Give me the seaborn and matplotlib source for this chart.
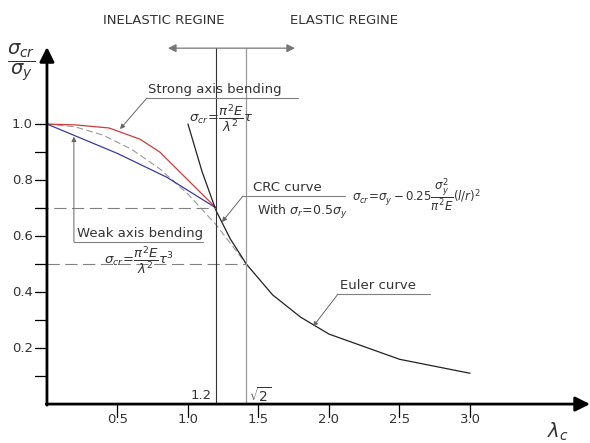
import numpy as np
import pandas as pd
import matplotlib
matplotlib.use("Agg")
import matplotlib.pyplot as plt
import seaborn as sns

# slenderness values
strong_lam = [0.0, 0.2, 0.44, 0.66, 0.80, 1.0, 1.2]
strong_sig = [1.0, 0.997, 0.986, 0.946, 0.90, 0.80, 0.70]

weak_lam = [0.0, 0.5, 0.85, 1.2]
weak_sig = [1.0, 0.895, 0.81, 0.70]

crc_lam = [0.0, 0.2, 0.4, 0.6, 0.8, 1.0, 1.2, 1.414]
crc_sig = [1.0, 0.99, 0.96, 0.91, 0.84, 0.75, 0.64, 0.5]

euler_lam = [1.0, 1.1, 1.2, 1.3, 1.414, 1.6, 1.8, 2.0, 2.5, 3.0]
euler_sig = [1.0, 0.83, 0.69, 0.59, 0.5, 0.39, 0.31, 0.25, 0.16, 0.11]

x_ticks = [0.5, 1.0, 1.5, 2.0, 2.5, 3.0]
x_tick_labels = ["0.5", "1.0", "1.5", "2.0", "2.5", "3.0"]
y_ticks = [0.1, 0.2, 0.3, 0.4, 0.5, 0.6, 0.7, 0.8, 0.9, 1.0]
y_tick_labels = {0.2: "0.2", 0.4: "0.4", 0.6: "0.6", 0.8: "0.8", 1.0: "1.0"}

sns.set_style("white")
plt.rcParams['font.family'] = ['DejaVu Sans']

fig = plt.figure(figsize=(5.9, 4.43), dpi=100)
ax = fig.add_axes([0, 0, 1, 1])
ax.set_xlim(-0.333, 3.851)
ax.set_ylim(-0.139, 1.443)
ax.axis("off")

txt = "#333333"
grey = "#808080"

# curves
sns.lineplot(x=crc_lam, y=crc_sig, ax=ax, color="#999999", lw=0.8, sort=False,
             estimator=None, linestyle=(0, (6, 3)))
sns.lineplot(x=strong_lam, y=strong_sig, ax=ax, color="#d03a3a", lw=0.9, sort=False, estimator=None)
sns.lineplot(x=weak_lam, y=weak_sig, ax=ax, color="#3a3aa8", lw=0.9, sort=False, estimator=None)
sns.lineplot(x=euler_lam, y=euler_sig, ax=ax, color="#222222", lw=0.9, sort=False, estimator=None)

# reference dashed lines
ax.plot([-0.08, 1.2], [0.7, 0.7], color=grey, lw=0.8, linestyle=(0, (11, 5)))
ax.plot([0.0, 1.414], [0.5, 0.5], color=grey, lw=0.8, linestyle=(0, (11, 5)))

# vertical lines at 1.2 and sqrt(2)
ax.plot([1.2, 1.2], [0, 1.271], color="#333333", lw=0.8)
ax.plot([1.414, 1.414], [0, 1.271], color="#999999", lw=0.9)

# regime double arrow
ax.annotate("", xy=(0.858, 1.271), xytext=(1.759, 1.271),
            arrowprops=dict(arrowstyle="<|-|>", color="#777777", lw=0.9,
                            mutation_scale=12, shrinkA=0, shrinkB=0))
ax.text(0.83, 1.371, "INELASTIC REGINE", ha="center", va="center", fontsize=9.5, color=txt)
ax.text(2.11, 1.371, "ELASTIC REGINE", ha="center", va="center", fontsize=9.5, color=txt)

# axes with arrows
ax.annotate("", xy=(3.851, 0), xytext=(-0.005, 0),
            arrowprops=dict(arrowstyle="-|>", color="black", lw=2.0,
                            mutation_scale=22, shrinkA=0, shrinkB=0))
ax.annotate("", xy=(0, 1.275), xytext=(0, -0.004),
            arrowprops=dict(arrowstyle="-|>", color="black", lw=2.0,
                            mutation_scale=22, shrinkA=0, shrinkB=0))

for t in y_ticks:
    ax.plot([-0.085, 0], [t, t], color="black", lw=0.9)
    if t in y_tick_labels:
        ax.text(-0.1, t, y_tick_labels[t], ha="right", va="center", fontsize=9.5, color=txt)
for t, lab in zip(x_ticks, x_tick_labels):
    ax.plot([t, t], [0, -0.045], color="black", lw=0.9)
    ax.text(t, -0.055, lab, ha="center", va="center", fontsize=9.5, color=txt)

ax.text(1.17, 0.032, "1.2", ha="right", va="center", fontsize=9.5, color=txt)
ax.text(1.43, 0.032, r"$\sqrt{2}$", ha="left", va="center", fontsize=10, color=txt)

ax.text(-0.18, 1.221, r"$\dfrac{\sigma_{cr}}{\sigma_y}$", ha="center", va="center",
        fontsize=14, color=txt)
ax.text(3.62, -0.1, r"$\lambda_c$", ha="center", va="center", fontsize=14, color=txt)

lead = dict(arrowstyle="-|>", color="#666666", lw=0.7, mutation_scale=7, shrinkA=0, shrinkB=0)

# strong axis label
ax.text(0.72, 1.10, "Strong axis bending", ha="left", va="bottom", fontsize=9.5, color=txt)
ax.plot([0.709, 1.78], [1.093, 1.093], color=grey, lw=0.8)
ax.annotate("", xy=(0.518, 0.982), xytext=(0.709, 1.093), arrowprops=lead)
ax.text(1.234, 1.021, r"$\sigma_{cr}\!=\!\dfrac{\pi^2 E}{\lambda^2}\tau$", ha="center",
        va="center", fontsize=9.5, color=txt)

# CRC label
ax.text(1.46, 0.75, "CRC curve", ha="left", va="bottom", fontsize=9.5, color=txt)
ax.plot([1.39, 2.113], [0.743, 0.743], color=grey, lw=0.8)
ax.annotate("", xy=(1.241, 0.65), xytext=(1.39, 0.743), arrowprops=lead)
ax.text(1.49, 0.686, r"With $\sigma_r\!=\!0.5\sigma_y$", ha="left", va="center",
        fontsize=9, color=txt)
ax.text(2.16, 0.746,
        r"$\sigma_{cr}\!=\!\sigma_y - 0.25\dfrac{\sigma_y^2}{\pi^2 E}(l/r)^2$",
        ha="left", va="center", fontsize=8.5, color=txt)

# weak axis label
ax.text(0.213, 0.586, "Weak axis bending", ha="left", va="bottom", fontsize=9.5, color=txt)
ax.plot([0.191, 1.106], [0.579, 0.579], color=grey, lw=0.8)
ax.annotate("", xy=(0.191, 0.955), xytext=(0.191, 0.579), arrowprops=lead)
ax.text(0.652, 0.514, r"$\sigma_{cr}\!=\!\dfrac{\pi^2 E}{\lambda^2}\tau^3$", ha="center",
        va="center", fontsize=9.5, color=txt)

# Euler label
ax.text(2.08, 0.40, "Euler curve", ha="left", va="bottom", fontsize=9.5, color=txt)
ax.plot([2.064, 2.716], [0.393, 0.393], color=grey, lw=0.8)
ax.annotate("", xy=(1.887, 0.277), xytext=(2.064, 0.393), arrowprops=lead)

fig.savefig("out.png", dpi=100)
